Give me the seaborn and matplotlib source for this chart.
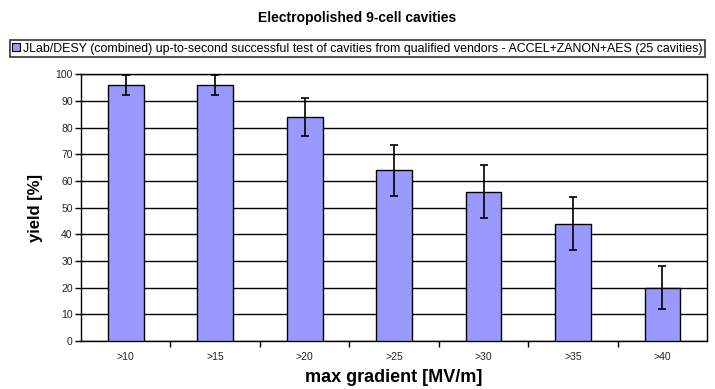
import matplotlib
matplotlib.use("Agg")
import matplotlib.pyplot as plt
import seaborn as sns
import pandas as pd
from matplotlib.patches import Patch

categories = [">10", ">15", ">20", ">25", ">30", ">35", ">40"]
yield_pct = [96, 96, 84, 64, 56, 44, 20]
err_pct = [3.9, 3.9, 7.3, 9.6, 9.9, 9.9, 8.0]
series_label = ("JLab/DESY (combined) up-to-second successful test of cavities from "
                "qualified vendors - ACCEL+ZANON+AES (25 cavities)")

df = pd.DataFrame({"gradient": categories, "yield": yield_pct, "err": err_pct})

sns.set_theme(style="white")
plt.rcParams["font.family"] = ["Liberation Sans", "DejaVu Sans"]
plt.rcParams["text.color"] = "black"
plt.rcParams["axes.labelcolor"] = "black"
plt.rcParams["xtick.color"] = "black"
plt.rcParams["ytick.color"] = "black"

fig = plt.figure(figsize=(7.15, 3.89), dpi=100)
ax = fig.add_axes([0.1133, 0.1234, 0.8757, 0.6856])

bar_color = "#9999FF"
sns.barplot(data=df, x="gradient", y="yield", color=bar_color, edgecolor="black",
            linewidth=1.0, width=0.4, errorbar=None, saturation=1, ax=ax, zorder=3)
ax.errorbar(range(len(categories)), df["yield"], yerr=df["err"], fmt="none",
            ecolor="black", elinewidth=1.2, capsize=3, capthick=1.2, zorder=4,
            clip_on=True)

ax.set_ylim(0, 100)
ax.set_xlim(-0.5, len(categories) - 0.5)
ax.set_yticks(range(0, 101, 10))
ax.yaxis.grid(True, color="black", linewidth=1.0, zorder=0)
ax.xaxis.grid(False)
ax.set_axisbelow(True)
for s in ax.spines.values():
    s.set_visible(True)
    s.set_color("black")
    s.set_linewidth(1.0)

ax.tick_params(axis="y", which="major", direction="out", length=4, width=1,
               color="black", labelsize=7.5, pad=2, left=True, labelcolor="#222222")
ax.tick_params(axis="x", which="major", length=0, labelsize=7.5, pad=8,
               labelcolor="#222222")
ax.set_xticks([i + 0.5 for i in range(len(categories) - 1)], minor=True)
ax.tick_params(axis="x", which="minor", direction="out", length=4, width=1,
               color="black", bottom=True)

ax.set_ylabel("yield [%]", fontsize=12, fontweight="bold", labelpad=9)
ax.set_xlabel("max gradient [MV/m]", fontsize=13, fontweight="bold", labelpad=5)

fig.text(0.5, 0.953, "Electropolished 9-cell cavities", ha="center", va="center",
         fontsize=10, fontweight="bold")

handle = Patch(facecolor=bar_color, edgecolor="black", linewidth=0.8)
leg = fig.legend([handle], [series_label], loc="center", bbox_to_anchor=(0.5, 0.875),
                 fontsize=8.9, frameon=True, fancybox=False, edgecolor="black",
                 handlelength=0.6, handleheight=0.6, handletextpad=0.3,
                 borderpad=0.2, borderaxespad=0)
leg.get_frame().set_linewidth(1.2)

fig.savefig("out.png", dpi=100)
